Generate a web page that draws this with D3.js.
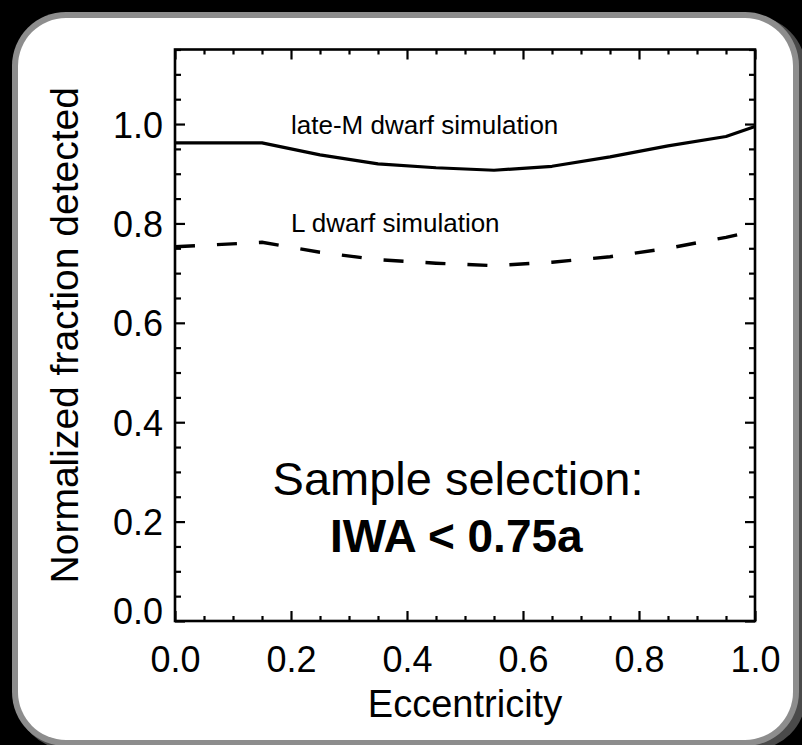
<!DOCTYPE html>
<html><head><meta charset="utf-8">
<script src="https://cdn.jsdelivr.net/npm/d3@7/dist/d3.min.js"></script>
<style>
body{margin:0;background:#000;}
svg{display:block;}
text{font-family:"Liberation Sans",Arial,Helvetica,sans-serif;fill:#000;}
</style>
</head><body>
<svg id="chart" width="802" height="745"></svg>
<script>
// ---- data ----
const eccentricity = [0, 0.15, 0.25, 0.35, 0.45, 0.55, 0.65, 0.75, 0.85, 0.95, 1.0];
const lateMDwarf   = [0.962, 0.962, 0.938, 0.920, 0.912, 0.907, 0.915, 0.934, 0.956, 0.975, 0.995];
const lDwarf       = [0.753, 0.762, 0.742, 0.727, 0.720, 0.715, 0.722, 0.733, 0.750, 0.772, 0.785];
const xTickValues  = [0, 0.2, 0.4, 0.6, 0.8, 1.0];
const yTickValues  = [0, 0.2, 0.4, 0.6, 0.8, 1.0];
const xLabel = "Eccentricity";
const yLabel = "Normalized fraction detected";
const seriesNames = ["late-M dwarf simulation", "L dwarf simulation"];
const noteLines = ["Sample selection:", "IWA < 0.75a"];

(function () {
  const svg = d3.select("#chart");
  const W = 802, H = 745;
  const pL = 175, pR = 755, pT = 49.5, pB = 621;

  svg.append("rect").attr("width", W).attr("height", H).attr("fill", "#000");
  // frame (shadow, grey border, white panel)
  svg.append("rect").attr("x", 16).attr("y", 16).attr("width", 790).attr("height", 734).attr("rx", 54).attr("fill", "#4a4a4a");
  svg.append("rect").attr("x", 12).attr("y", 12).attr("width", 787).attr("height", 734).attr("rx", 54).attr("fill", "#8d8d8d");
  svg.append("rect").attr("x", 18).attr("y", 18).attr("width", 775).attr("height", 722).attr("rx", 48).attr("fill", "#fff");

  const x = d3.scaleLinear().domain([0, 1]).range([pL, pR]);
  const y = d3.scaleLinear().domain([0, 1.15]).range([pB, pT]);

  const minorX = d3.range(0, 1.0001, 0.05).filter(v => xTickValues.every(t => Math.abs(t - v) > 1e-6));
  const minorY = d3.range(0, 1.1501, 0.05).filter(v => yTickValues.every(t => Math.abs(t - v) > 1e-6));

  function styleAxis(g) {
    g.select(".domain").remove();
    g.selectAll(".tick line").attr("stroke", "#000").attr("stroke-width", 2.2);
  }

  // bottom axis
  const gB = svg.append("g").attr("transform", `translate(0,${pB})`)
    .call(d3.axisBottom(x).tickValues(xTickValues).tickSize(-10).tickFormat(d3.format(".1f")));
  styleAxis(gB);
  gB.selectAll("text").attr("y", 51).attr("dy", 0).style("font-size", "36px").attr("fill", "#000");
  svg.append("g").attr("transform", `translate(0,${pB})`)
    .call(d3.axisBottom(x).tickValues(minorX).tickSize(-5).tickFormat("")).call(styleAxis);

  // top axis
  svg.append("g").attr("transform", `translate(0,${pT})`)
    .call(d3.axisTop(x).tickValues(xTickValues).tickSize(-10).tickFormat("")).call(styleAxis);
  svg.append("g").attr("transform", `translate(0,${pT})`)
    .call(d3.axisTop(x).tickValues(minorX).tickSize(-5).tickFormat("")).call(styleAxis);

  // left axis
  const gL = svg.append("g").attr("transform", `translate(${pL},0)`)
    .call(d3.axisLeft(y).tickValues(yTickValues).tickSize(-10).tickFormat(d3.format(".1f")));
  styleAxis(gL);
  gL.selectAll("text").attr("x", -12).attr("dy", "0.36em").style("font-size", "36px").attr("fill", "#000")
    .attr("y", d => d === 0 ? -10 : 0);
  svg.append("g").attr("transform", `translate(${pL},0)`)
    .call(d3.axisLeft(y).tickValues(minorY).tickSize(-6).tickFormat("")).call(styleAxis);

  // right axis
  svg.append("g").attr("transform", `translate(${pR},0)`)
    .call(d3.axisRight(y).tickValues(yTickValues).tickSize(-10).tickFormat("")).call(styleAxis);
  svg.append("g").attr("transform", `translate(${pR},0)`)
    .call(d3.axisRight(y).tickValues(minorY).tickSize(-6).tickFormat("")).call(styleAxis);

  // plot box
  svg.append("rect").attr("x", pL).attr("y", pT).attr("width", pR - pL).attr("height", pB - pT)
    .attr("fill", "none").attr("stroke", "#000").attr("stroke-width", 2.6);

  // axis titles
  svg.append("text").attr("x", (pL + pR) / 2).attr("y", 717).attr("text-anchor", "middle")
    .style("font-size", "38px").text(xLabel);
  svg.append("text").attr("transform", `translate(78,${(pT + pB) / 2}) rotate(-90)`)
    .attr("text-anchor", "middle").style("font-size", "39px").text(yLabel);

  // lines
  const line = d3.line().x((d, i) => x(eccentricity[i])).y(d => y(d));
  svg.append("path").datum(lateMDwarf).attr("d", line).attr("fill", "none")
    .attr("stroke", "#000").attr("stroke-width", 3.2).attr("stroke-linejoin", "round");
  svg.append("path").datum(lDwarf).attr("d", line).attr("fill", "none")
    .attr("stroke", "#000").attr("stroke-width", 3.4).attr("stroke-dasharray", "20,22");

  // series labels
  svg.append("text").attr("x", x(0.2)).attr("y", y(0.98)).style("font-size", "26px").text(seriesNames[0]);
  svg.append("text").attr("x", x(0.2)).attr("y", y(0.783)).style("font-size", "26px").text(seriesNames[1]);

  // note
  svg.append("text").attr("x", x(0.488)).attr("y", y(0.2535)).attr("text-anchor", "middle")
    .style("font-size", "47px").text(noteLines[0]);
  svg.append("text").attr("x", x(0.485)).attr("y", y(0.139)).attr("text-anchor", "middle")
    .style("font-size", "46px").style("font-weight", "bold").text(noteLines[1]);
})();
</script>
</body></html>
